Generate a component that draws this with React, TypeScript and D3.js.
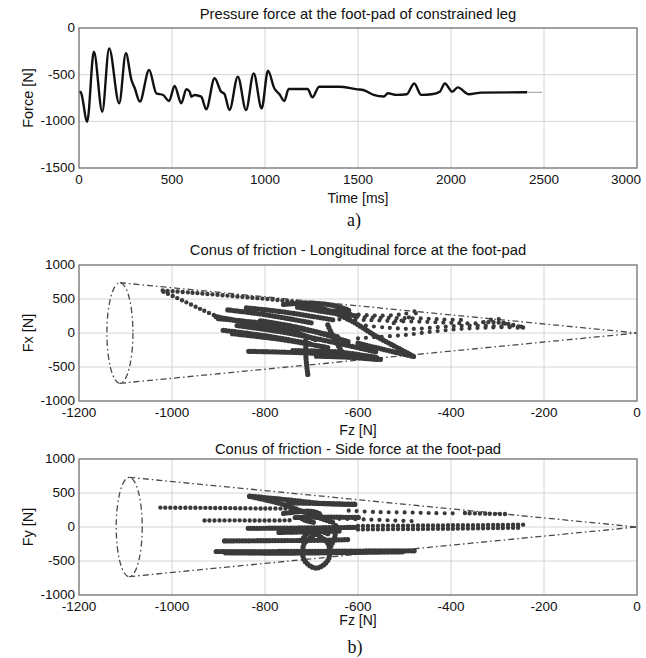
import React from 'react';
import * as d3 from 'd3';

// ---------- data: panel a) pressure force ----------
const timeMs = [0, 10, 44, 80, 125, 162, 216, 252, 282, 300, 327, 377, 416, 452, 484, 514, 550, 577, 595, 604, 621, 657, 684, 729, 764, 782, 809, 854, 898, 939, 982, 1016, 1050, 1077, 1104, 1127, 1229, 1255, 1291, 1398, 1496, 1528, 1584, 1639, 1661, 1706, 1762, 1802, 1840, 1896, 1940, 1967, 2007, 2036, 2096, 2163, 2409];
const forceN = [-680, -690, -1004, -254, -897, -218, -807, -271, -557, -646, -789, -450, -700, -718, -782, -621, -807, -657, -682, -736, -718, -736, -871, -539, -682, -707, -879, -521, -879, -486, -861, -457, -646, -707, -782, -654, -654, -743, -629, -629, -657, -664, -717, -734, -699, -717, -710, -594, -717, -710, -682, -594, -682, -636, -710, -692, -689];
const tailTimeMs = [2409, 2490];
const tailForceN = [-689, -689];

const timeTicks = [0, 500, 1000, 1500, 2000, 2500, 3000];
const forceTicks = [0, -500, -1000, -1500];
const fzTicks = [-1200, -1000, -800, -600, -400, -200, 0];
const sideTicks = [1000, 500, 0, -500, -1000];

// ---------- data: cone of friction (Fz of base, half width, base ellipse Fz radius) ----------
const coneFx = [-1112, 740, 28];
const coneFy = [-1092, 730, 28];

// ---------- data: longitudinal force streaks [Fz, Fx] ----------
const fxSparse: number[][][] = [
  [[-650, 300], [-600, 270], [-550, 255], [-505, 275], [-470, 325], [-490, 230], [-530, 130]],
  [[-640, 200], [-580, 190], [-520, 175], [-460, 165], [-400, 150], [-340, 145], [-300, 210], [-285, 140], [-240, 85]],
  [[-600, -80], [-560, -60], [-500, -30], [-440, 20], [-380, 60], [-320, 80], [-260, 90]],
  [[-600, 120], [-540, 80], [-480, 60], [-420, 90], [-360, 110], [-300, 100], [-245, 70]],
  [[-620, 240], [-570, 225], [-520, 220], [-470, 215], [-420, 200], [-370, 190]],
];
const fxMedium: number[][][] = [
  [[-1020, 625], [-960, 595], [-890, 555], [-820, 515], [-750, 470], [-690, 430]],
  [[-1018, 605], [-975, 470], [-935, 340], [-905, 250]],
  [[-330, 160], [-290, 150], [-245, 80]],
];
const fxDense: number[][][] = [
  [[-880, 340], [-800, 270], [-700, 150]],
  [[-840, 370], [-760, 310], [-650, 190]],
  [[-905, 240], [-820, 130], [-740, 20], [-690, -100]],
  [[-890, 40], [-800, -40], [-700, -160]],
  [[-835, -270], [-720, -290], [-620, -330], [-550, -390]],
  [[-740, 440], [-690, 390], [-620, 200], [-560, -50], [-478, -350]],
  [[-760, 420], [-700, 440], [-650, 400], [-620, 330], [-690, 330]],
  [[-712, -80], [-712, -350], [-708, -610]],
  [[-665, 120], [-650, -100], [-630, -320]],
  [[-810, 180], [-720, 70], [-620, -130]],
  [[-560, -390], [-610, -360], [-690, -340]],
  [[-860, 110], [-760, 10], [-650, -140], [-560, -280]],
  [[-600, -150], [-540, -250], [-478, -350]],
  [[-900, 210], [-800, 140], [-700, 30], [-640, -60]],
  [[-870, -10], [-760, -100], [-660, -220]],
  [[-740, -260], [-640, -280], [-560, -360]],
  [[-730, 380], [-660, 300], [-600, 250]],
];

// ---------- data: side force streaks [Fz, Fy] ----------
const fyMedium: number[][][] = [
  [[-1025, 285], [-950, 282], [-880, 278], [-800, 272], [-740, 270]],
  [[-930, 95], [-860, 98], [-800, 95], [-740, 100]],
  [[-600, 15], [-500, 20], [-400, 25], [-300, 30], [-240, 35]],
  [[-600, -35], [-500, -30], [-400, -25], [-300, -15], [-250, -10]],
  [[-370, 205], [-320, 195], [-280, 190]],
];
const fySparse: number[][][] = [
  [[-620, 240], [-560, 220], [-500, 215], [-440, 205], [-380, 200]],
  [[-640, 120], [-580, 110], [-520, 95], [-470, 85]],
];
const fyDense: number[][][] = [
  [[-836, -20], [-740, -15], [-600, -5]],
  [[-887, -205], [-780, -200], [-680, -195], [-620, -185]],
  [[-905, -360], [-780, -360], [-640, -355], [-520, -350], [-478, -350]],
  [[-885, -380], [-760, -385], [-620, -375], [-500, -365]],
  [[-833, 455], [-750, 400], [-680, 350], [-604, 335]],
  [[-749, 355], [-680, 345], [-604, 330]],
  [[-833, 450], [-760, 330], [-690, 150], [-650, 60]],
  [[-690, -100], [-664, -250], [-664, -480], [-690, -605], [-716, -480], [-716, -250], [-690, -100]],
  [[-648, 20], [-650, -150], [-660, -300]],
  [[-735, 140], [-660, 145], [-597, 140]],
  [[-770, -80], [-700, -70], [-640, -60]],
  [[-760, 200], [-700, 230], [-680, 180], [-720, 120], [-690, 60]],
  [[-720, -200], [-710, -100], [-680, -60], [-660, -120]],
];

// ---------- layout ----------
const W = 646, H = 658;
const L = 79, R = 637;
const FONT = '"Liberation Sans", Arial, Helvetica, sans-serif';
const SERIF = '"Liberation Serif", "Times New Roman", serif';
const GRID = '#d4d4d4';
const FRAME = '#7a7a7a';
const DOT = '#3a3a3a';

type PanelProps = {
  top: number; bottom: number;
  x: d3.ScaleLinear<number, number>; y: d3.ScaleLinear<number, number>;
  xTicks: number[]; yTicks: number[];
  title: string; titleY: number;
  xLabel: string; xLabelY: number;
  yLabel: string;
  lastTickEnd?: boolean;
  children?: React.ReactNode;
};

function Panel({ top, bottom, x, y, xTicks, yTicks, title, titleY, xLabel, xLabelY, yLabel, lastTickEnd, children }: PanelProps) {
  const cx = (L + R) / 2;
  return (
    <g>
      {xTicks.slice(1, -1).map((t) => (
        <line key={'gx' + t} x1={x(t)} x2={x(t)} y1={top} y2={bottom} stroke={GRID} strokeWidth={1} />
      ))}
      {yTicks.slice(1, -1).map((t) => (
        <line key={'gy' + t} x1={L} x2={R} y1={y(t)} y2={y(t)} stroke={GRID} strokeWidth={1} />
      ))}
      {children}
      <rect x={L} y={top} width={R - L} height={bottom - top} fill="none" stroke={FRAME} strokeWidth={1.4} />
      {xTicks.map((t, i) => {
        const last = lastTickEnd && i === xTicks.length - 1;
        return (
          <text key={'tx' + t} x={last ? x(t) + 4 : x(t)} y={bottom + 15.5} textAnchor={last ? 'end' : 'middle'}
            fontSize={13.5} fontFamily={FONT} fill="#111">{t}</text>
        );
      })}
      {yTicks.map((t) => (
        <text key={'ty' + t} x={L - 4} y={y(t) + 4} textAnchor="end" fontSize={13.5} fontFamily={FONT} fill="#111">{t}</text>
      ))}
      <text x={cx} y={titleY} textAnchor="middle" fontSize={14.8} fontFamily={FONT} fill="#111">{title}</text>
      <text x={cx} y={xLabelY} textAnchor="middle" fontSize={14} fontFamily={FONT} fill="#111">{xLabel}</text>
      <text transform={`translate(33,${(top + bottom) / 2}) rotate(-90)`} textAnchor="middle" fontSize={14.5} fontFamily={FONT} fill="#111">{yLabel}</text>
    </g>
  );
}

function Cone({ x, y, cone }: { x: d3.ScaleLinear<number, number>; y: d3.ScaleLinear<number, number>; cone: number[] }) {
  const [fz, half, rz] = cone;
  const dash = '6,3,1.6,3';
  const line = d3.line<number[]>().x((d) => x(d[0])).y((d) => y(d[1]));
  return (
    <g fill="none" stroke="#4a4a4a" strokeWidth={1.3} strokeDasharray={dash}>
      <path d={line([[fz, half], [0, 0]]) || ''} />
      <path d={line([[fz, -half], [0, 0]]) || ''} />
      <ellipse cx={x(fz)} cy={y(0)} rx={x(fz + rz) - x(fz)} ry={y(0) - y(half)} />
    </g>
  );
}

function Streaks({ x, y, dense, medium, sparse }: { x: any; y: any; dense: number[][][]; medium: number[][][]; sparse: number[][][] }) {
  const line = d3.line<number[]>().x((d) => x(d[0])).y((d) => y(d[1])).curve(d3.curveCatmullRom);
  return (
    <g fill="none" stroke={DOT} strokeLinecap="round" strokeLinejoin="round">
      {sparse.map((s, i) => (
        <path key={'s' + i} d={line(s) || ''} strokeWidth={4.2} strokeDasharray="0 8" />
      ))}
      {medium.map((s, i) => (
        <path key={'m' + i} d={line(s) || ''} strokeWidth={4.4} strokeDasharray="0 5" />
      ))}
      {dense.map((s, i) => (
        <path key={'d' + i} d={line(s) || ''} strokeWidth={5.2} strokeDasharray="0 3" />
      ))}
    </g>
  );
}

export default function App() {
  const aTop = 28, aBot = 168;
  const bTop = 265, bBot = 401;
  const cTop = 459, cBot = 595;

  const xa = d3.scaleLinear().domain([0, 3000]).range([L, R]);
  const ya = d3.scaleLinear().domain([-1500, 0]).range([aBot, aTop]);
  const xb = d3.scaleLinear().domain([-1200, 0]).range([L, R]);
  const yb = d3.scaleLinear().domain([-1000, 1000]).range([bBot, bTop]);
  const yc = d3.scaleLinear().domain([-1000, 1000]).range([cBot, cTop]);

  const pts = timeMs.map((t, i) => [t, forceN[i]]);
  const tail = tailTimeMs.map((t, i) => [t, tailForceN[i]]);
  const forceLine = d3.line<number[]>().x((d) => xa(d[0])).y((d) => ya(d[1])).curve(d3.curveMonotoneX);

  return (
    <svg width={W} height={H} viewBox={`0 0 ${W} ${H}`} style={{ position: 'absolute', left: 0, top: 0, background: '#fff' }}>
      <rect x={0} y={0} width={W} height={H} fill="#fff" />
      <Panel top={aTop} bottom={aBot} x={xa} y={ya} xTicks={timeTicks} yTicks={forceTicks}
        title="Pressure force at the foot-pad of constrained leg" titleY={19}
        xLabel="Time [ms]" xLabelY={203} yLabel="Force [N]" lastTickEnd>
        <path d={forceLine(tail) || ''} fill="none" stroke="#999" strokeWidth={1} />
        <path d={forceLine(pts) || ''} fill="none" stroke="#111" strokeWidth={2.4} strokeLinejoin="round" />
      </Panel>
      <text x={354} y={226} textAnchor="middle" fontSize={18} fontFamily={SERIF} fill="#111">a)</text>

      <Panel top={bTop} bottom={bBot} x={xb} y={yb} xTicks={fzTicks} yTicks={sideTicks}
        title="Conus of friction - Longitudinal force at the foot-pad" titleY={255}
        xLabel="Fz [N]" xLabelY={435} yLabel="Fx [N]">
        <Cone x={xb} y={yb} cone={coneFx} />
        <Streaks x={xb} y={yb} dense={fxDense} medium={fxMedium} sparse={fxSparse} />
      </Panel>

      <Panel top={cTop} bottom={cBot} x={xb} y={yc} xTicks={fzTicks} yTicks={sideTicks}
        title="Conus of friction - Side force at the foot-pad" titleY={454}
        xLabel="Fz [N]" xLabelY={625} yLabel="Fy [N]">
        <Cone x={xb} y={yc} cone={coneFy} />
        <Streaks x={xb} y={yc} dense={fyDense} medium={fyMedium} sparse={fySparse} />
      </Panel>
      <text x={355} y={653} textAnchor="middle" fontSize={18} fontFamily={SERIF} fill="#111">b)</text>
    </svg>
  );
}
